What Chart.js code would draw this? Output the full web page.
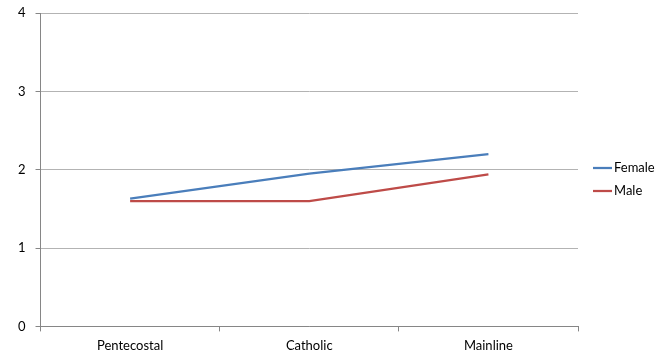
<!DOCTYPE html>
<html>
<head>
<meta charset="utf-8">
<script src="https://cdn.jsdelivr.net/npm/chart.js@4/dist/chart.umd.min.js"></script>
<style>
  html, body { margin: 0; padding: 0; background: #fff; }
  #wrap { width: 659px; height: 352px; }
</style>
</head>
<body>
<div id="wrap"><canvas id="c" width="659" height="352"></canvas></div>
<script>
const categories = ["Pentecostal", "Catholic", "Mainline"];
const femaleValues = [1.63, 1.95, 2.2];
const maleValues = [1.6, 1.6, 1.94];
const yTicks = [0, 1, 2, 3, 4];

Chart.defaults.font.family = "Lato, 'Open Sans', sans-serif";
Chart.defaults.font.size = 13;
Chart.defaults.color = "#000";

// Series key drawn to the right of the plot: short line sample, then the name.
const sideLegend = {
  id: "sideLegend",
  afterDraw(chart) {
    const ctx = chart.ctx;
    const x0 = chart.chartArea.right + 15;
    const yMid = (chart.chartArea.top + chart.chartArea.bottom) / 2;
    const step = 23;
    const n = chart.data.datasets.length;
    ctx.save();
    ctx.font = "13px Lato, 'Open Sans', sans-serif";
    ctx.textBaseline = "middle";
    chart.data.datasets.forEach((ds, i) => {
      const y = Math.round(yMid + (i - (n - 1) / 2) * step + 10);
      ctx.strokeStyle = ds.borderColor;
      ctx.lineWidth = 2.25;
      ctx.beginPath();
      ctx.moveTo(x0, y);
      ctx.lineTo(x0 + 19, y);
      ctx.stroke();
      ctx.fillStyle = "#000";
      ctx.fillText(ds.label, x0 + 21, y);
    });
    ctx.restore();
  }
};

new Chart(document.getElementById("c"), {
  type: "line",
  data: {
    labels: categories,
    datasets: [
      { label: "Female", data: femaleValues, borderColor: "#4a7ebb", backgroundColor: "#4a7ebb", borderWidth: 2.25, pointRadius: 0, tension: 0 },
      { label: "Male", data: maleValues, borderColor: "#be4b48", backgroundColor: "#be4b48", borderWidth: 2.25, pointRadius: 0, tension: 0 }
    ]
  },
  plugins: [sideLegend],
  options: {
    responsive: false,
    animation: false,
    layout: { padding: { left: 8, top: 13, right: 81, bottom: -9 } },
    plugins: {
      tooltip: { enabled: false },
      legend: { display: false }
    },
    scales: {
      x: {
        offset: true,
        grid: { offset: true, display: true, drawOnChartArea: false, color: "#868686", tickLength: 5 },
        border: { color: "#868686" },
        ticks: { padding: 7, color: "#000" },
        afterFit: (s) => { s.paddingLeft = 0; s.paddingRight = 0; }
      },
      y: {
        min: 0,
        max: 4,
        afterBuildTicks: (axis) => { axis.ticks = yTicks.map(v => ({ value: v })); },
        grid: { color: "#b3b3b3", tickColor: "#868686", tickLength: 5 },
        border: { color: "#868686" },
        ticks: { padding: 10, color: "#000" },
        afterFit: (s) => { s.paddingTop = 0; s.paddingBottom = 0; }
      }
    }
  }
});
</script>
</body>
</html>
